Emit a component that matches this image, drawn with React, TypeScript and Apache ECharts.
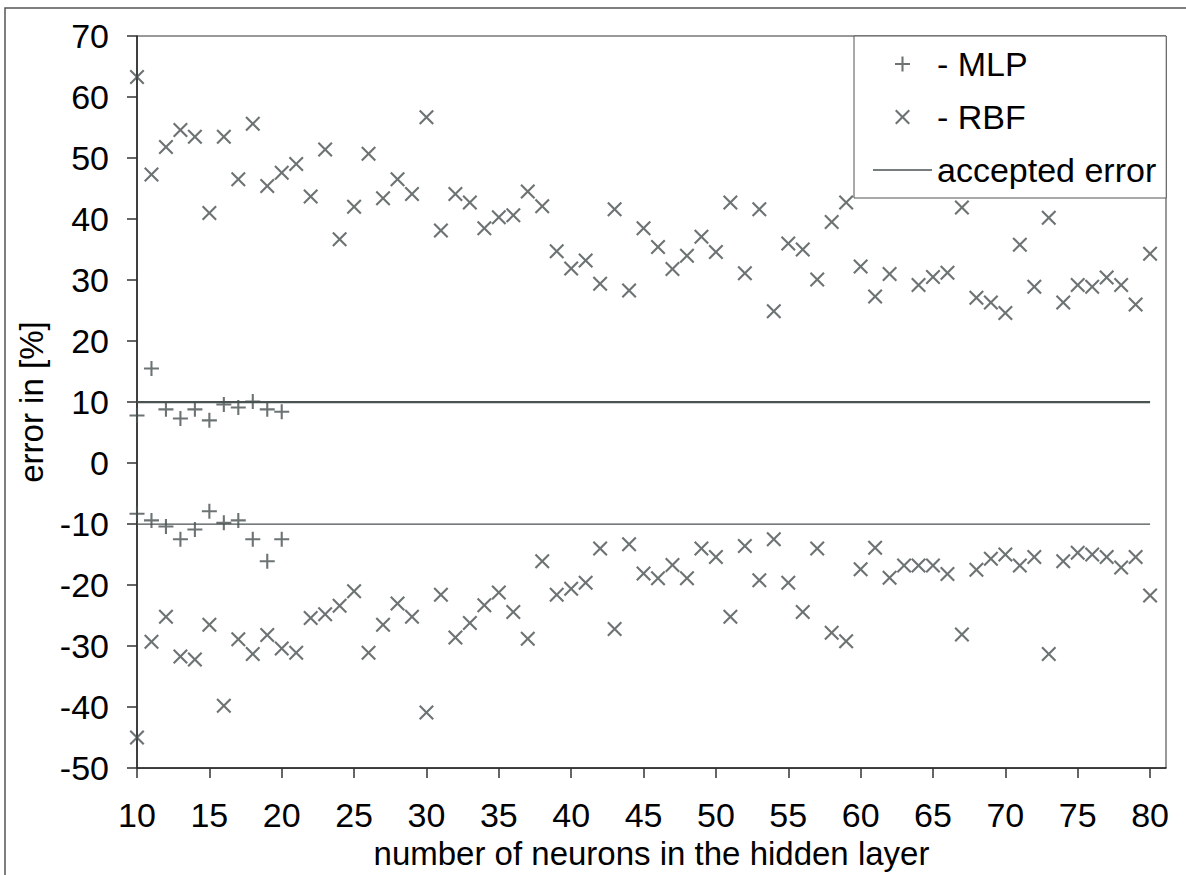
import React, { useEffect, useRef } from "react";
import * as echarts from "echarts";

const neurons = [
  10, 11, 12, 13, 14, 15, 16, 17, 18, 19, 20, 21, 22, 23, 24, 25, 26, 27, 28, 29,
  30, 31, 32, 33, 34, 35, 36, 37, 38, 39, 40, 41, 42, 43, 44, 45, 46, 47, 48, 49,
  50, 51, 52, 53, 54, 55, 56, 57, 58, 59, 60, 61, 62, 63, 64, 65, 66, 67, 68, 69,
  70, 71, 72, 73, 74, 75, 76, 77, 78, 79, 80,
];

const mlpNeurons = [10, 11, 12, 13, 14, 15, 16, 17, 18, 19, 20];
const mlpUpper = [7.8, 15.5, 8.8, 7.3, 8.8, 7.0, 9.6, 9.1, 10.1, 8.8, 8.4];
const mlpLower = [-8.3, -9.4, -10.4, -12.5, -10.9, -7.9, -9.8, -9.4, -12.5, -16.1, -12.5];

const rbfUpper: (number | null)[] = [
  63.3, 47.3, 51.8, 54.6, 53.5, 41.0, 53.5, 46.5, 55.6, 45.4, 47.6, 49.0, 43.7, 51.4,
  36.7, 42.0, 50.7, 43.4, 46.5, 44.1, 56.7, 38.1, 44.1, 42.7, 38.5, 40.3, 40.6, 44.5,
  42.1, 34.7, 31.9, 33.2, 29.4, 41.6, 28.3, 38.5, 35.4, 31.8, 34.0, 37.1, 34.6, 42.7,
  31.1, 41.6, 24.9, 36.0, 35.0, 30.1, 39.5, 42.7, 32.2, 27.3, 31.0, null, 29.2, 30.5,
  31.2, 41.9, 27.1, 26.3, 24.6, 35.8, 28.9, 40.2, 26.3, 29.2, 28.9, 30.4, 29.2, 26.0,
  34.3,
];

const rbfLower = [
  -45.0, -29.3, -25.2, -31.7, -32.2, -26.5, -39.8, -28.9, -31.3, -28.2, -30.4, -31.1,
  -25.4, -24.8, -23.4, -21.0, -31.1, -26.5, -23.0, -25.2, -40.9, -21.6, -28.6, -26.2,
  -23.3, -21.2, -24.4, -28.8, -16.1, -21.6, -20.6, -19.6, -14.0, -27.2, -13.3, -18.1,
  -18.9, -16.7, -18.9, -14.0, -15.4, -25.2, -13.6, -19.2, -12.5, -19.6, -24.4, -14.0,
  -27.8, -29.2, -17.4, -13.9, -18.8, -16.8, -16.8, -16.8, -18.2, -28.1, -17.5, -15.7,
  -15.0, -16.8, -15.4, -31.3, -16.1, -14.7, -15.0, -15.4, -17.1, -15.4, -21.7,
];

const acceptedUpper = 10;
const acceptedLower = -10;
const xTicks = [10, 15, 20, 25, 30, 35, 40, 45, 50, 55, 60, 65, 70, 75, 80];

const FONT = "'Liberation Sans', Arial, sans-serif";
const MARK = "#485050";
const LINE = "#4a5252";
const PLUS_PATH = "path://M4.3,0H5.7V4.3H10V5.7H5.7V10H4.3V5.7H0V4.3H4.3Z";
const CROSS_PATH =
  "path://M0,1L1,0L5,4L9,0L10,1L6,5L10,9L9,10L5,6L1,10L0,9L4,5Z";

export default function App() {
  const ref = useRef<HTMLDivElement>(null);
  useEffect(() => {
    if (!ref.current) return;
    const chart = echarts.init(ref.current, undefined, { renderer: "svg" });

    const mlpData: number[][] = [];
    mlpNeurons.forEach((n, i) => {
      mlpData.push([n, mlpUpper[i]]);
      mlpData.push([n, mlpLower[i]]);
    });
    const rbfData: number[][] = [];
    neurons.forEach((n, i) => {
      if (rbfUpper[i] !== null) rbfData.push([n, rbfUpper[i] as number]);
      rbfData.push([n, rbfLower[i]]);
    });
    const first = neurons[0];
    const last = neurons[neurons.length - 1];

    chart.setOption({
      animation: false,
      backgroundColor: "#fff",
      textStyle: { fontFamily: FONT },
      grid: {
        left: 137,
        top: 36,
        right: 20,
        bottom: 106,
        show: true,
        borderColor: "#333",
        borderWidth: 1,
        backgroundColor: "transparent",
      },
      graphic: [
        {
          type: "rect",
          shape: { x: 5, y: 8, width: 1200, height: 900 },
          style: { fill: "none", stroke: "#555", lineWidth: 1.5 },
          silent: true,
          z: 0,
        },
      ],
      legend: {
        orient: "vertical",
        left: 854,
        top: 36,
        padding: [11, 10, 11, 19],
        itemGap: 19,
        itemWidth: 59,
        itemHeight: 15,
        backgroundColor: "#fff",
        borderColor: "#555",
        borderWidth: 1,
        borderRadius: 0,
        data: [
          "MLP",
          "RBF",
          { name: "accepted error", icon: "path://M0,0L59,0L59,1.6L0,1.6Z" },
        ],
        formatter: (name: string) => (name === "accepted error" ? name : "- " + name),
        textStyle: { fontSize: 34, color: "#000", fontFamily: FONT },
      },
      xAxis: {
        type: "value",
        min: 10,
        max: 81.1,
        name: "number of neurons in the hidden layer",
        nameLocation: "middle",
        nameGap: 62,
        nameTextStyle: { fontSize: 33, color: "#000", fontFamily: FONT },
        axisLine: { onZero: false, lineStyle: { color: "#222", width: 1.5 } },
        axisTick: { show: true, length: 10, inside: false, customValues: xTicks, lineStyle: { color: "#333", width: 1.5 } },
        axisLabel: { customValues: xTicks, fontSize: 34, color: "#000", margin: 30, fontFamily: FONT },
        splitLine: { show: false },
      },
      yAxis: {
        type: "value",
        min: -50,
        max: 70,
        interval: 10,
        name: "error in [%]",
        nameLocation: "middle",
        nameGap: 89,
        nameTextStyle: { fontSize: 33, color: "#000", fontFamily: FONT },
        axisLine: { show: true, lineStyle: { color: "#222", width: 1.5 } },
        axisTick: { show: true, length: 10, lineStyle: { color: "#333", width: 1.5 } },
        axisLabel: { fontSize: 34, color: "#000", margin: 28, fontFamily: FONT },
        splitLine: { show: false },
      },
      series: [
        {
          name: "MLP",
          type: "scatter",
          symbol: PLUS_PATH,
          symbolSize: 15,
          itemStyle: { color: MARK, borderWidth: 0 },
          data: mlpData,
          z: 3,
        },
        {
          name: "RBF",
          type: "scatter",
          symbol: CROSS_PATH,
          symbolSize: 15,
          itemStyle: { color: MARK, borderWidth: 0 },
          data: rbfData,
          z: 3,
        },
        {
          name: "accepted error",
          type: "line",
          symbol: "none",
          lineStyle: { color: LINE, width: 2.2 },
          itemStyle: { color: LINE },
          data: [
            [first, acceptedUpper],
            [last, acceptedUpper],
          ],
          z: 2,
        },
        {
          name: "accepted error",
          type: "line",
          symbol: "none",
          lineStyle: { color: LINE, width: 1.3 },
          itemStyle: { color: LINE },
          data: [
            [first, acceptedLower],
            [last, acceptedLower],
          ],
          z: 2,
        },
      ],
    });
    return () => chart.dispose();
  }, []);

  return (
    <div
      ref={ref}
      style={{ position: "absolute", left: 0, top: 0, width: 1186, height: 875 }}
    />
  );
}
